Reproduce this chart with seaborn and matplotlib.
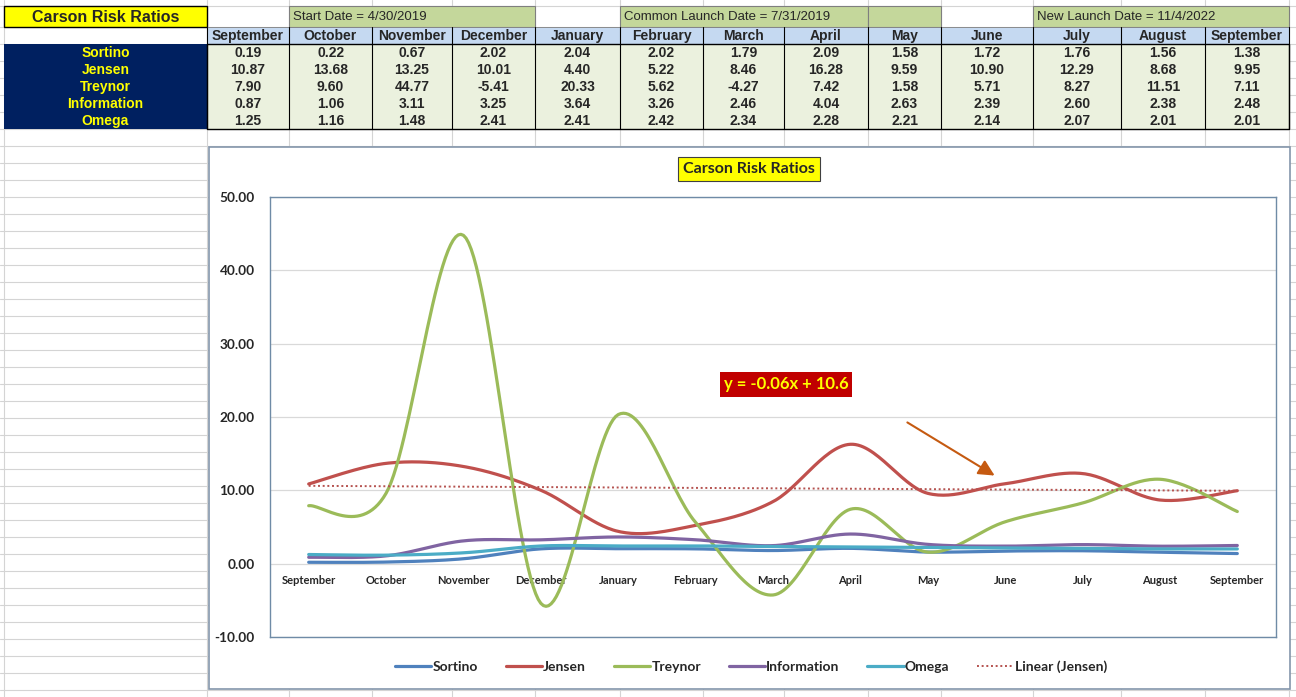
import numpy as np
import matplotlib
matplotlib.use("Agg")
import matplotlib.pyplot as plt
from matplotlib.patches import Rectangle
import seaborn as sns

# --- data from the sheet ---
months = ["September", "October", "November", "December", "January", "February", "March",
          "April", "May", "June", "July", "August", "September"]
sortino = [0.19, 0.22, 0.67, 2.02, 2.04, 2.02, 1.79, 2.09, 1.58, 1.72, 1.76, 1.56, 1.38]
jensen = [10.87, 13.68, 13.25, 10.01, 4.40, 5.22, 8.46, 16.28, 9.59, 10.90, 12.29, 8.68, 9.95]
treynor = [7.90, 9.60, 44.77, -5.41, 20.33, 5.62, -4.27, 7.42, 1.58, 5.71, 8.27, 11.51, 7.11]
information = [0.87, 1.06, 3.11, 3.25, 3.64, 3.26, 2.46, 4.04, 2.63, 2.39, 2.60, 2.38, 2.48]
omega = [1.25, 1.16, 1.48, 2.41, 2.41, 2.42, 2.34, 2.28, 2.21, 2.14, 2.07, 2.01, 2.01]
ratio_names = ["Sortino", "Jensen", "Treynor", "Information", "Omega"]
ratio_values = [sortino, jensen, treynor, information, omega]
ratio_colors = ["#4F81BD", "#C0504D", "#9BBB59", "#8064A2", "#4BACC6"]
trend_label = "y = -0.06x + 10.6"

sns.set_style("white")
NARROW = ["Liberation Sans Narrow", "Liberation Sans", "DejaVu Sans"]
CHART = ["Lato", "DejaVu Sans"]

W, H = 1296, 697
fig = plt.figure(figsize=(W / 100, H / 100), dpi=100)
bg = fig.add_axes([0, 0, 1, 1])
bg.set_xlim(0, W)
bg.set_ylim(H, 0)
bg.axis("off")

# spreadsheet grid
cols = [4, 207, 289, 372, 452, 535, 620, 703, 784, 868, 941, 1033, 1121, 1205, 1289]
rows = [6] + list(range(27, H + 1, 17))
for cx in cols:
    bg.axvline(cx, color="#D4D4D4", lw=0.8, zorder=0)
for ry in rows:
    bg.axhline(ry, color="#D4D4D4", lw=0.8, zorder=0)


def cell(x0, x1, y0, y1, face, edge=None, lw=0.8):
    bg.add_patch(Rectangle((x0, y0), x1 - x0, y1 - y0, facecolor=face,
                           edgecolor=edge if edge else "none", lw=lw, zorder=1))


# title row
cell(cols[0], cols[1], 6, 27, "#FFFF00", "black", 1.0)
bg.text((cols[0] + cols[1]) / 2, 17, "Carson Risk Ratios", ha="center", va="center",
        fontsize=11.5, fontweight="bold", family=["Liberation Sans", "DejaVu Sans"], zorder=3)
for x0, x1, txt in [(cols[2], cols[5], "Start Date = 4/30/2019"),
                    (cols[6], cols[9], "Common Launch Date = 7/31/2019"),
                    (cols[9], cols[10], ""),
                    (cols[11], cols[14], "New Launch Date = 11/4/2022")]:
    cell(x0, x1, 6, 27, "#C4D79B", "#7F7F7F", 0.8)
    if txt:
        bg.text(x0 + 4, 17, txt, ha="left", va="center", fontsize=9.5,
                family=NARROW, zorder=3)

# header row
for i, m in enumerate(months):
    cell(cols[i + 1], cols[i + 2], 27, 44, "#C5D9F1", "#7F7F7F", 0.6)
    bg.text((cols[i + 1] + cols[i + 2]) / 2, 36, m, ha="center", va="center",
            fontsize=10, fontweight="bold", family=NARROW, zorder=3)

# data block
top, rh = 44, 17
cell(cols[0], cols[1], top, top + rh * 5, "#002060")
cell(cols[1], cols[-1], top, top + rh * 5, "#EBF1DE")
for r, (name, vals) in enumerate(zip(ratio_names, ratio_values)):
    yc = top + rh * r + 9
    bg.text((cols[0] + cols[1]) / 2, yc, name, ha="center", va="center", color="#FFFF00",
            fontsize=10, fontweight="bold", family=NARROW, zorder=3)
    for i, v in enumerate(vals):
        bg.text((cols[i + 1] + cols[i + 2]) / 2, yc, f"{v:.2f}", ha="center", va="center",
                fontsize=10, fontweight="bold", family=NARROW, zorder=3)
for cx in cols[1:]:
    bg.plot([cx, cx], [27, top + rh * 5], color="black", lw=0.8, zorder=2)
bg.add_patch(Rectangle((cols[1], top), cols[-1] - cols[1], rh * 5, fill=False,
                       edgecolor="black", lw=1.0, zorder=2))

# chart frame
bg.add_patch(Rectangle((209, 147), 1081, 542, facecolor="white", edgecolor="#8496AB",
                       lw=1.2, zorder=4))
bg.text(749, 169, "Carson Risk Ratios", ha="center", va="center", fontsize=11.5,
        fontweight="bold", family=CHART, zorder=5,
        bbox=dict(boxstyle="square,pad=0.3", facecolor="#FFFF00", edgecolor="#404040", lw=0.8))
bg.text(786, 384.5, trend_label, ha="center", va="center", fontsize=12, fontweight="bold",
        color="#FFFF00", family=CHART, zorder=5,
        bbox=dict(boxstyle="square,pad=0.25", facecolor="#C00000", edgecolor="none"))
bg.annotate("", xy=(997, 477), xytext=(905, 421), zorder=5,
            arrowprops=dict(arrowstyle="-|>", color="#C55A11", lw=1.5, mutation_scale=24))


def excel_smooth(y, n=30):
    # Bezier smoothing like Excel's "smoothed line"
    y = np.asarray(y, float)
    P = np.column_stack([np.arange(len(y), dtype=float), y])
    pts = []
    for i in range(len(P) - 1):
        p0 = P[i - 1] if i > 0 else P[i]
        p1, p2 = P[i], P[i + 1]
        p3 = P[i + 2] if i + 2 < len(P) else P[i + 1]
        b1 = p1 + (p2 - p0) / 6
        b2 = p2 - (p3 - p1) / 6
        t = np.linspace(0, 1, n, endpoint=(i == len(P) - 2))[:, None]
        pts.append((1 - t) ** 3 * p1 + 3 * (1 - t) ** 2 * t * b1
                   + 3 * (1 - t) * t ** 2 * b2 + t ** 3 * p2)
    pts = np.vstack(pts)
    return pts[:, 0], pts[:, 1]


# plot area
ax = fig.add_axes([270 / W, 1 - 637 / H, 1006 / W, 440 / H], zorder=5)
ax.patch.set_alpha(0)
for name, vals, col in zip(ratio_names, ratio_values, ratio_colors):
    xs, ys = excel_smooth(vals)
    sns.lineplot(x=xs, y=ys, sort=False, estimator=None, color=col, lw=2.3,
                 label=name, ax=ax)

xpos = np.arange(len(months))
slope, icpt = np.polyfit(xpos, jensen, 1)
sns.lineplot(x=xpos, y=slope * xpos + icpt, color="#B5524F", lw=1.4, linestyle=(0, (1, 1.4)),
             label="Linear (Jensen)", ax=ax)

ax.set_xlim(-0.5, len(months) - 0.5)
ax.set_ylim(-10, 50)
ax.set_yticks(range(-10, 51, 10))
ax.set_yticklabels([f"{v:.2f}" for v in range(-10, 51, 10)])
ax.yaxis.grid(True, color="#D9D9D9", lw=0.9)
ax.set_axisbelow(True)
ax.set_xticks([])
ax.tick_params(axis="y", length=0, pad=11)
for lab in ax.get_yticklabels():
    lab.set_fontweight("bold")
    lab.set_fontsize(9.8)
    lab.set_family(CHART)
for sp in ax.spines.values():
    sp.set_visible(True)
    sp.set_color("#6F8BA6")
    sp.set_linewidth(1.0)

sec = ax.secondary_xaxis(0, transform=ax.transData)
sec.set_xticks(xpos)
sec.set_xticklabels(months)
sec.tick_params(length=0, pad=8)
sec.spines["bottom"].set_visible(False)
for lab in sec.get_xticklabels():
    lab.set_fontweight("bold")
    lab.set_fontsize(8)
    lab.set_family(CHART)

ax.set_xlabel("")
ax.set_ylabel("")
handles, labels = ax.get_legend_handles_labels()
ax.legend(handles, labels, loc="center", bbox_to_anchor=(751 / W, 1 - 667 / H),
          bbox_transform=fig.transFigure, ncol=6, frameon=False, handlelength=2.6,
          handletextpad=0.1, columnspacing=2.0,
          prop=dict(family=CHART, weight="bold", size=10))

fig.savefig("out.png", dpi=100)
